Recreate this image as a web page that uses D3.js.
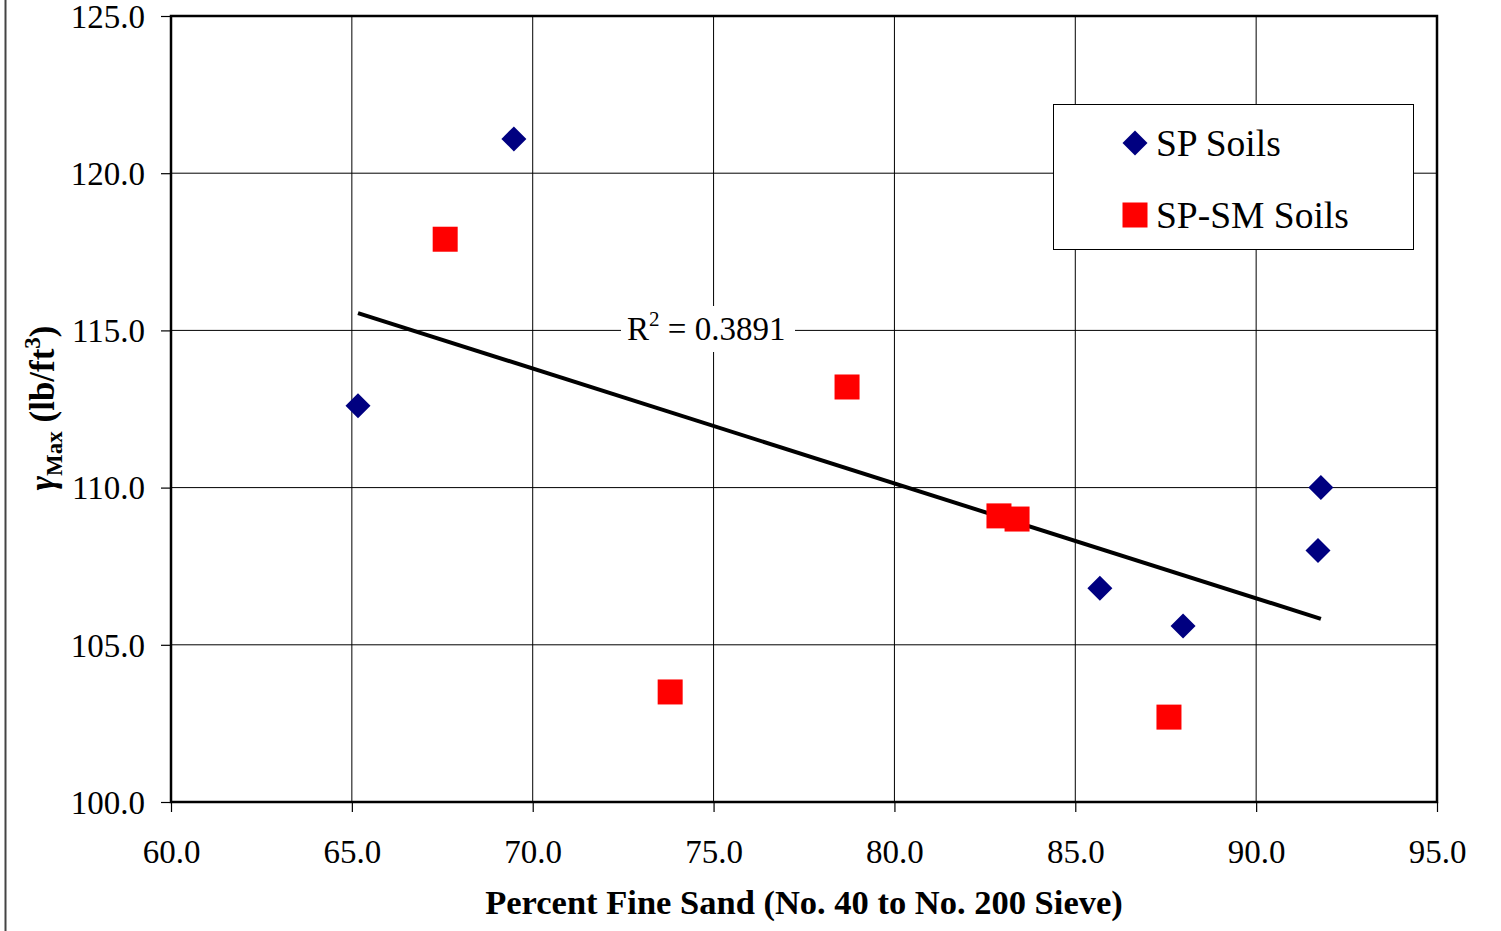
<!DOCTYPE html>
<html><head><meta charset="utf-8">
<script src="https://cdn.jsdelivr.net/npm/d3@7"></script>
<style>body{margin:0;background:#fff}svg{display:block}text{font-family:"Liberation Serif","Times New Roman",serif}</style>
</head><body>
<svg id="c" width="1501" height="931"></svg>
<script>
const spX = [65.17, 69.48, 91.79, 91.71, 85.68, 87.98];
const spY = [112.6, 121.09, 110.0, 108.0, 106.8, 105.6];
const smX = [67.58, 78.69, 82.89, 83.39, 73.80, 87.59];
const smY = [117.9, 113.2, 109.1, 109.0, 103.5, 102.7];
const xTicks = [60, 65, 70, 75, 80, 85, 90, 95];
const yTicks = [100, 105, 110, 115, 120, 125];
const seriesNames = ["SP Soils", "SP-SM Soils"];
const r2Label = "0.3891";

const svg = d3.select("#c");
const x = d3.scaleLinear().domain([60, 95]).range([171, 1437]);
const y = d3.scaleLinear().domain([100, 125]).range([802, 16]);

// left page edge line
svg.append("line").attr("x1",5.5).attr("x2",5.5).attr("y1",0).attr("y2",931).attr("stroke","#444").attr("stroke-width",2);

// grid
svg.append("g").selectAll("line").data(xTicks.slice(1,-1)).join("line")
  .attr("x1",d=>x(d)).attr("x2",d=>x(d)).attr("y1",y(125)).attr("y2",y(100)).attr("stroke","#000").attr("stroke-width",1);
svg.append("g").selectAll("line").data(yTicks.slice(1,-1)).join("line")
  .attr("x1",x(60)).attr("x2",x(95)).attr("y1",d=>y(d)).attr("y2",d=>y(d)).attr("stroke","#000").attr("stroke-width",1);

// axes
const xa = svg.append("g").attr("transform",`translate(0,${y(100)})`)
  .call(d3.axisBottom(x).tickValues(xTicks).tickFormat(d3.format(".1f")).tickSize(10).tickPadding(28));
const ya = svg.append("g").attr("transform",`translate(${x(60)},0)`)
  .call(d3.axisLeft(y).tickValues(yTicks).tickFormat(d3.format(".1f")).tickSize(10).tickPadding(16));
[xa,ya].forEach(a=>{
  a.select(".domain").remove();
  a.selectAll("line").attr("stroke","#000").attr("stroke-width",1.2);
  a.selectAll("text").attr("font-size",33).attr("fill","#000").attr("font-family","Liberation Serif");
});
ya.selectAll("text").attr("dy","0.34em");

// frame
svg.append("rect").attr("x",x(60)).attr("y",y(125)).attr("width",x(95)-x(60)).attr("height",y(100)-y(125))
  .attr("fill","none").attr("stroke","#000").attr("stroke-width",2.5);

// trendline (least squares over all points)
const allX = spX.concat(smX), allY = spY.concat(smY);
const mx = d3.mean(allX), my = d3.mean(allY);
const slope = d3.sum(allX.map((v,i)=>(v-mx)*(allY[i]-my))) / d3.sum(allX.map(v=>(v-mx)**2));
const x0 = d3.min(allX), x1 = d3.max(allX);
svg.append("line").attr("x1",x(x0)).attr("y1",y(my+slope*(x0-mx))).attr("x2",x(x1)).attr("y2",y(my+slope*(x1-mx)))
  .attr("stroke","#000").attr("stroke-width",4);

// R2 label
const rg = svg.append("g");
rg.append("rect").attr("x",621).attr("y",306).attr("width",174).attr("height",46).attr("fill","#fff");
const rt = rg.append("text").attr("x",627).attr("y",340).attr("font-size",33).attr("fill","#000");
rt.append("tspan").text("R");
rt.append("tspan").attr("font-size",21).attr("dy",-14).text("2");
rt.append("tspan").attr("dy",14).text(" = " + r2Label);

// markers
function diamondPath(cx, cy, r){ return `M${cx},${cy-r}L${cx+r},${cy}L${cx},${cy+r}L${cx-r},${cy}Z`; }
svg.append("g").selectAll("path").data(spX.map((v,i)=>[v,spY[i]])).join("path")
  .attr("d",d=>diamondPath(x(d[0]),y(d[1]),12.5)).attr("fill","#000080");
svg.append("g").selectAll("rect").data(smX.map((v,i)=>[v,smY[i]])).join("rect")
  .attr("x",d=>x(d[0])-12.5).attr("y",d=>y(d[1])-12.5).attr("width",25).attr("height",25).attr("fill","#ff0000");

// legend
const lg = svg.append("g");
lg.append("rect").attr("x",1053.5).attr("y",104.5).attr("width",360).attr("height",145).attr("fill","#fff").attr("stroke","#000").attr("stroke-width",1);
lg.append("path").attr("d",diamondPath(1135,143,12.5)).attr("fill","#000080");
lg.append("rect").attr("x",1122.5).attr("y",202.5).attr("width",25).attr("height",25).attr("fill","#ff0000");
lg.append("text").attr("x",1156).attr("y",156).attr("font-size",37.5).text(seriesNames[0]);
lg.append("text").attr("x",1156).attr("y",228).attr("font-size",37.5).text(seriesNames[1]);

// x title
svg.append("text").attr("x",804).attr("y",914).attr("text-anchor","middle").attr("font-size",34.5).attr("font-weight","bold")
  .text("Percent Fine Sand (No. 40 to No. 200 Sieve)");

// y title
const yt = svg.append("text").attr("transform","translate(54,408) rotate(-90)").attr("text-anchor","middle")
  .attr("font-size",35).attr("font-weight","bold");
yt.append("tspan").attr("font-style","italic").text("γ");
yt.append("tspan").attr("font-size",23).attr("dy",8).text("Max");
yt.append("tspan").attr("dy",-8).text(" (lb/ft");
yt.append("tspan").attr("font-size",23).attr("dy",-14).text("3");
yt.append("tspan").attr("dy",14).text(")");
</script>
</body></html>
